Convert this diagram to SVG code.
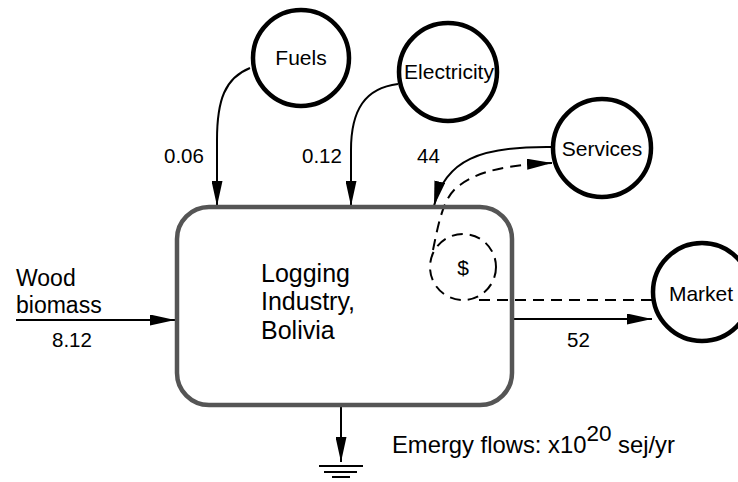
<svg xmlns="http://www.w3.org/2000/svg" width="738" height="482" viewBox="0 0 738 482">
  <defs>
    <style>
      text { font-family: "Liberation Sans", Arial, sans-serif; fill: #000; }
      .src { fill: #fff; stroke: #000; stroke-width: 4.5; }
      .lbl { font-size: 21px; text-anchor: middle; }
      .num { font-size: 20.5px; }
      .flow { fill: none; stroke: #000; stroke-width: 2; }
      .money { fill: none; stroke: #000; stroke-width: 2; stroke-dasharray: 11 7; }
    </style>
    <marker id="arrow" viewBox="0 0 10 10" refX="10" refY="5" markerWidth="25" markerHeight="11" markerUnits="userSpaceOnUse" orient="auto" preserveAspectRatio="none">
      <path d="M0,0 L10,5 L0,10 Z" fill="#000"/>
    </marker>
  </defs>

  <!-- Flows -->
  <g id="connectors">
    <path class="flow" d="M16,320 L175,320" marker-end="url(#arrow)"/>
    <path class="flow" d="M250,68 C225,78 217,100 217,140 L217,206" marker-end="url(#arrow)"/>
    <path class="flow" d="M398,84 C365,88 351,110 351,150 L351,206" marker-end="url(#arrow)"/>
    <path class="flow" d="M553,147 C480,146 445,160 434,206" marker-end="url(#arrow)"/>
    <path class="flow" d="M514,319 L652,319" marker-end="url(#arrow)"/>
    <path class="flow" d="M341,407 L341,462" marker-end="url(#arrow)"/>
    <path class="money" d="M433,250 C440,215 445,195 460,185 C480,170 510,165 552,163" marker-end="url(#arrow)"/>
    <path class="money" d="M652,300 L473,300"/>
  </g>

  <!-- Heat sink -->
  <g id="sink" stroke="#000" stroke-width="2">
    <line x1="319" y1="466" x2="363" y2="466"/>
    <line x1="324" y1="472" x2="357" y2="472"/>
    <line x1="332" y1="477" x2="350" y2="477"/>
  </g>

  <!-- Main system -->
  <g id="logging-industry">
    <rect x="177" y="207" width="335" height="198" rx="32" ry="32" fill="none" stroke="#555" stroke-width="4.5"/>
    <text x="261" y="282" font-size="25">Logging</text>
    <text x="261" y="310" font-size="25">Industry,</text>
    <text x="261" y="339" font-size="25">Bolivia</text>
  </g>

  <!-- Money storage inside the system -->
  <g id="money">
    <circle cx="463" cy="267" r="33" fill="none" stroke="#000" stroke-width="2" stroke-dasharray="11 7"/>
    <text x="463" y="275" class="lbl">$</text>
  </g>

  <g id="fuels">
    <circle class="src" cx="301" cy="58" r="48"/>
    <text x="301" y="65" class="lbl">Fuels</text>
  </g>
  <g id="electricity">
    <circle class="src" cx="448" cy="72" r="49"/>
    <text x="449" y="79" class="lbl">Electricity</text>
  </g>
  <g id="services">
    <circle class="src" cx="602" cy="148" r="49"/>
    <text x="602" y="156" class="lbl">Services</text>
  </g>
  <g id="market">
    <circle class="src" cx="702" cy="292" r="49"/>
    <text x="701" y="301" class="lbl">Market</text>
  </g>

  <!-- Flow values -->
  <g id="labels">
    <text x="16" y="286" font-size="23">Wood</text>
    <text x="16" y="313" font-size="23">biomass</text>
    <text x="52" y="347" class="num">8.12</text>
    <text x="164" y="163" class="num">0.06</text>
    <text x="302" y="163" class="num">0.12</text>
    <text x="417" y="163" class="num">44</text>
    <text x="567" y="347" class="num">52</text>
    <text x="392" y="453" font-size="23.8">Emergy flows: x10<tspan dy="-12" font-size="22.5">20</tspan><tspan dy="12"> sej/yr</tspan></text>
  </g>
</svg>
